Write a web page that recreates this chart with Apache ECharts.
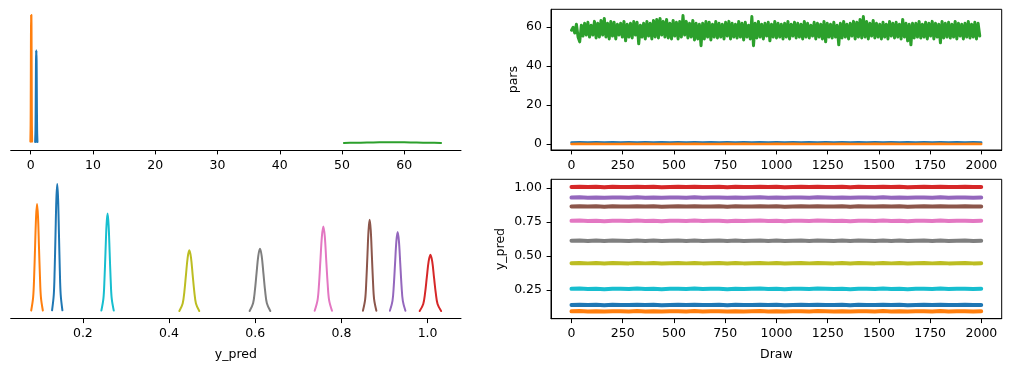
<!DOCTYPE html>
<html>
<head>
<meta charset="utf-8">
<script src="https://cdn.jsdelivr.net/npm/echarts@6/dist/echarts.min.js"></script>
<style>
html,body{margin:0;padding:0;background:#fff;}
#chart{width:1011px;height:372px;}
</style>
</head>
<body>
<div id="chart"></div>
<script>
// ---------------- DATA ----------------
const colors = {blue:'#1f77b4', orange:'#ff7f0e', green:'#2ca02c', red:'#d62728', purple:'#9467bd',
  brown:'#8c564b', pink:'#e377c2', gray:'#7f7f7f', olive:'#bcbd22', cyan:'#17becf'};

// tick labels
const parsKdeTicks = [0, 10, 20, 30, 40, 50, 60];
const ypredKdeTicks = [0.2, 0.4, 0.6, 0.8, 1.0];
const drawTicks = [0, 250, 500, 750, 1000, 1250, 1500, 1750, 2000];
const parsTraceTicks = [0, 20, 40, 60];
const ypredTraceTicks = [0.25, 0.50, 0.75, 1.00];

// KDE of pars (x values, densities)
const parsKdeBlueX = [0.745, 0.80, 0.8275, 0.855, 0.8825, 0.91, 0.9375, 0.965, 0.9925, 1.02, 1.075];
const parsKdeBlueY = [0.08, 0.98, 2.35, 4.39, 6.39, 7.24, 6.39, 4.39, 2.35, 0.98, 0.08];
const parsKdeOrangeX = [-0.02, 0.02, 0.04, 0.06, 0.08, 0.10, 0.12, 0.14, 0.16, 0.18, 0.22];
const parsKdeOrangeY = [0.11, 1.35, 3.25, 6.07, 8.83, 10.0, 8.83, 6.07, 3.25, 1.35, 0.11];
const parsKdeGreenX = [50.3, 52, 54, 56, 58, 60, 62, 64, 65.9];
const parsKdeGreenY = [0.005, 0.015, 0.03, 0.05, 0.06, 0.055, 0.035, 0.015, 0.005];

// KDE of y_pred
const kdeBlueX   = [0.1285,0.1325,0.1345,0.1365,0.1385,0.1405,0.1425,0.1445,0.1465,0.1485,0.1525];
const kdeBlueY   = [1.17,14.2,34.1,63.7,92.8,105.1,92.8,63.7,34.1,14.2,1.17];
const kdeOrangeX = [0.0801,0.0846,0.0869,0.0891,0.0914,0.0936,0.0959,0.0981,0.1004,0.1026,0.1071];
const kdeOrangeY = [0.98,12.0,28.8,53.7,78.2,88.6,78.2,53.7,28.8,12.0,0.98];
const kdeRedX    = [0.9816,0.9899,0.9941,0.9982,1.0024,1.0065,1.0107,1.0148,1.019,1.0231,1.0314];
const kdeRedY    = [0.52,6.35,15.2,28.4,41.4,46.9,41.4,28.4,15.2,6.35,0.52];
const kdePurpleX = [0.9125,0.9185,0.9215,0.9245,0.9275,0.9305,0.9335,0.9365,0.9395,0.9425,0.9485];
const kdePurpleY = [0.73,8.88,21.3,39.8,57.9,65.6,57.9,39.8,21.3,8.88,0.73];
const kdeBrownX  = [0.8499,0.8551,0.8577,0.8603,0.8629,0.8655,0.8681,0.8707,0.8733,0.8759,0.8811];
const kdeBrownY  = [0.84,10.2,24.6,45.9,66.8,75.7,66.8,45.9,24.6,10.2,0.84];
const kdePinkX   = [0.7379,0.7446,0.7480,0.7513,0.7547,0.758,0.7614,0.7647,0.7681,0.7714,0.7781];
const kdePinkY   = [0.78,9.50,22.8,42.6,62.0,70.2,62.0,42.6,22.8,9.50,0.78];
const kdeGrayX   = [0.587,0.595,0.599,0.603,0.607,0.611,0.615,0.619,0.623,0.627,0.635];
const kdeGrayY   = [0.58,7.02,16.9,31.5,45.8,51.9,45.8,31.5,16.9,7.02,0.58];
const kdeOliveX  = [0.4239,0.4316,0.4355,0.4393,0.4432,0.447,0.4509,0.4547,0.4586,0.4624,0.4701];
const kdeOliveY  = [0.56,6.83,16.4,30.6,44.6,50.5,44.6,30.6,16.4,6.83,0.56];
const kdeCyanX   = [0.2429,0.2477,0.2501,0.2525,0.2549,0.2573,0.2597,0.2621,0.2645,0.2669,0.2717];
const kdeCyanY   = [0.9,10.9,26.3,49.1,71.4,80.9,71.4,49.1,26.3,10.9,0.9];

// traces of pars (green: every 8th draw, blue/orange: every 40th draw)
const traceGreen = [
58.5,60,57,61.5,55,52.5,61,55.5,62,56,
62.5,55,61,56,63,54.5,62,55,63.5,56,
64.5,55,62,54,63,55.5,62.5,54,61.5,56,
62,55,63,53,61.5,55,62,54.5,63,56,
62.5,51.5,61,55,62,54,63,55.5,62,54,
63.5,55,64,54.5,64.5,56,63,55,64,54.5,
62,54,63.5,55.5,62.5,54,63,55,66,56,
63,54.5,62,55,63.5,53.5,62,54,61.5,50.5,
62,54,63,55,62.5,53.5,61.5,55,63,54.5,
62,55,61.5,54,62.5,55.5,63,54,62,55,
61.5,54.5,63,55,62,53.5,62.5,55,61,54,
65.5,50.5,62,54.5,63,55,61.5,54,62,55.5,
62.5,53,61.5,55,63,54.5,62,55,61.5,54,
62,55,63,54,61.5,55.5,62.5,54.5,62,55,
61.5,54,63,55,62,54.5,61,55.5,62.5,54,
62,55,61.5,54,63,52.5,62,55,61.5,54.5,
62.5,55,61,51,62,54.5,63,55,61.5,54,
62,55.5,63,54,62.5,55,64,54.5,65.5,55,
63,54,62,55.5,63.5,54.5,62,55,61.5,54,
62.5,55,61.5,54,63,55.5,62,54.5,62.5,55,
61.5,54,64,55,62,53,61.5,51,62,54.5,
62,55,63,54.5,61.5,55,62.5,54,62,55.5,
63,54,62,55,61.5,52,63,54.5,62,55,
62.5,54.5,61.5,55,63,54,62,55.5,61.5,54,
62,55,63,54.5,61.5,55,62.5,54,62,55.5];
const traceParsBlue = [0.91,0.98,0.85,0.99,0.84,0.97,0.86,1.0,0.85,0.98,0.84,0.97,0.86,0.99,0.83,0.98,0.85,0.97,0.86,1.0,0.84,0.98,0.85,0.97,0.86,0.99,0.84,0.98,0.85,0.97,0.86,1.0,0.84,0.98,0.85,0.97,0.86,0.99,0.84,0.98,0.85,0.97,0.86,1.0,0.84,0.98,0.85,0.97,0.86,0.99,0.91];
const traceParsOrange = [0.10,0.15,0.05,0.16,0.04,0.14,0.06,0.17,0.05,0.15,0.04,0.14,0.06,0.16,0.03,0.15,0.05,0.14,0.06,0.17,0.04,0.15,0.05,0.14,0.06,0.16,0.04,0.15,0.05,0.14,0.06,0.17,0.04,0.15,0.05,0.14,0.06,0.16,0.04,0.15,0.05,0.14,0.06,0.17,0.04,0.15,0.05,0.14,0.06,0.16,0.10];

// traces of y_pred (every 40th draw)
const trBlue   = [0.141,0.143,0.140,0.142,0.139,0.142,0.141,0.140,0.143,0.140,0.142,0.139,0.141,0.142,0.140,0.143,0.140,0.141,0.142,0.139,0.142,0.140,0.141,0.143,0.140,0.142,0.139,0.141,0.142,0.140,0.143,0.141,0.140,0.142,0.139,0.142,0.141,0.140,0.143,0.140,0.142,0.139,0.141,0.142,0.140,0.143,0.140,0.141,0.142,0.140,0.141];
const trOrange = [0.094,0.096,0.093,0.095,0.092,0.095,0.094,0.093,0.096,0.093,0.095,0.092,0.094,0.095,0.093,0.096,0.093,0.094,0.095,0.092,0.095,0.093,0.094,0.096,0.093,0.095,0.092,0.094,0.095,0.093,0.096,0.094,0.093,0.095,0.092,0.095,0.094,0.093,0.096,0.093,0.095,0.092,0.094,0.095,0.093,0.096,0.093,0.094,0.095,0.093,0.094];
const trRed    = [1.007,1.009,1.006,1.008,1.005,1.008,1.007,1.006,1.009,1.006,1.008,1.005,1.007,1.008,1.006,1.009,1.006,1.007,1.008,1.005,1.008,1.006,1.007,1.009,1.006,1.008,1.005,1.007,1.008,1.006,1.009,1.007,1.006,1.008,1.005,1.008,1.007,1.006,1.009,1.006,1.008,1.005,1.007,1.008,1.006,1.009,1.006,1.007,1.008,1.006,1.007];
const trPurple = [0.929,0.931,0.928,0.930,0.927,0.930,0.929,0.928,0.931,0.928,0.930,0.927,0.929,0.930,0.928,0.931,0.928,0.929,0.930,0.927,0.930,0.928,0.929,0.931,0.928,0.930,0.927,0.929,0.930,0.928,0.931,0.929,0.928,0.930,0.927,0.930,0.929,0.928,0.931,0.928,0.930,0.927,0.929,0.930,0.928,0.931,0.928,0.929,0.930,0.928,0.929];
const trBrown  = [0.864,0.866,0.863,0.865,0.862,0.865,0.864,0.863,0.866,0.863,0.865,0.862,0.864,0.865,0.863,0.866,0.863,0.864,0.865,0.862,0.865,0.863,0.864,0.866,0.863,0.865,0.862,0.864,0.865,0.863,0.866,0.864,0.863,0.865,0.862,0.865,0.864,0.863,0.866,0.863,0.865,0.862,0.864,0.865,0.863,0.866,0.863,0.864,0.865,0.863,0.864];
const trPink   = [0.758,0.760,0.757,0.759,0.756,0.759,0.758,0.757,0.760,0.757,0.759,0.756,0.758,0.759,0.757,0.760,0.757,0.758,0.759,0.756,0.759,0.757,0.758,0.760,0.757,0.759,0.756,0.758,0.759,0.757,0.760,0.758,0.757,0.759,0.756,0.759,0.758,0.757,0.760,0.757,0.759,0.756,0.758,0.759,0.757,0.760,0.757,0.758,0.759,0.757,0.758];
const trGray   = [0.612,0.614,0.611,0.613,0.610,0.613,0.612,0.611,0.614,0.611,0.613,0.610,0.612,0.613,0.611,0.614,0.611,0.612,0.613,0.610,0.613,0.611,0.612,0.614,0.611,0.613,0.610,0.612,0.613,0.611,0.614,0.612,0.611,0.613,0.610,0.613,0.612,0.611,0.614,0.611,0.613,0.610,0.612,0.613,0.611,0.614,0.611,0.612,0.613,0.610,0.612];
const trOlive  = [0.447,0.449,0.446,0.448,0.445,0.448,0.447,0.446,0.449,0.446,0.448,0.445,0.447,0.448,0.446,0.449,0.446,0.447,0.448,0.445,0.448,0.446,0.447,0.449,0.446,0.448,0.445,0.447,0.448,0.446,0.449,0.447,0.446,0.448,0.445,0.448,0.447,0.446,0.449,0.446,0.448,0.445,0.447,0.448,0.446,0.449,0.446,0.447,0.448,0.446,0.447];
const trCyan   = [0.259,0.261,0.258,0.260,0.257,0.260,0.259,0.258,0.261,0.258,0.260,0.257,0.259,0.260,0.258,0.261,0.258,0.259,0.260,0.257,0.260,0.258,0.259,0.261,0.258,0.260,0.257,0.259,0.260,0.258,0.261,0.259,0.258,0.260,0.257,0.260,0.259,0.258,0.261,0.258,0.260,0.257,0.259,0.260,0.258,0.261,0.258,0.259,0.260,0.258,0.259];

// ---------------- CHART ----------------
const FONT = 'DejaVu Sans';
const FS = 12.5;
const zip = (xs, ys) => xs.map((x, i) => [x, ys[i]]);
const drawIdx = (n, step) => Array.from({length: n}, (_, i) => Math.min(i * step, 1999));
const withDraws = (vals, step) => zip(drawIdx(vals.length, step), vals);

const labelStyle = {color: '#000', fontFamily: FONT, fontSize: FS, margin: 9};
const tickStyle = {length: 4.4, lineStyle: {color: '#000', width: 1}};
const lineStyleAxis = {show: true, onZero: false, lineStyle: {color: '#000', width: 1}};

function xAx(grid, min, max, ticks, fmt, name) {
  const a = {
    gridIndex: grid, type: 'value', min: min, max: max,
    axisLine: lineStyleAxis,
    axisTick: Object.assign({customValues: ticks}, tickStyle),
    axisLabel: Object.assign({customValues: ticks, formatter: fmt}, labelStyle),
    splitLine: {show: false}
  };
  if (name) {
    a.name = name; a.nameLocation = 'middle'; a.nameGap = 30;
    a.nameTextStyle = {color: '#000', fontFamily: FONT, fontSize: FS};
  }
  return a;
}
function yAx(grid, min, max, ticks, fmt, name, gap) {
  if (!ticks) return {gridIndex: grid, type: 'value', min: min, max: max, show: false, splitLine: {show: false}};
  return {
    gridIndex: grid, type: 'value', min: min, max: max,
    axisLine: lineStyleAxis,
    axisTick: Object.assign({customValues: ticks}, tickStyle),
    axisLabel: Object.assign({customValues: ticks, formatter: fmt}, labelStyle),
    splitLine: {show: false},
    name: name, nameLocation: 'middle', nameGap: gap, nameRotate: 90,
    nameTextStyle: {color: '#000', fontFamily: FONT, fontSize: FS}
  };
}
function ln(xi, data, color, width, smooth, join) {
  return {type: 'line', xAxisIndex: xi, yAxisIndex: xi, data: data, showSymbol: false, symbol: 'none',
    smooth: smooth || false, sampling: 'none',
    lineStyle: {color: color, width: width, join: join || 'round', cap: 'round'}, itemStyle: {color: color},
    animation: false, silent: true, z: 2};
}

const chart = echarts.init(document.getElementById('chart'), null, {renderer: 'canvas'});
chart.setOption({
  backgroundColor: '#fff',
  animation: false,
  grid: [
    {left: 10.7, top: 9.3, width: 450.3, height: 140.7},
    {left: 10.7, top: 179.3, width: 450.3, height: 139.4},
    {left: 551, top: 9.3, width: 450.7, height: 140.7, show: true, borderColor: '#000', borderWidth: 1, backgroundColor: 'transparent'},
    {left: 551, top: 179.3, width: 450.7, height: 139.4, show: true, borderColor: '#000', borderWidth: 1, backgroundColor: 'transparent'}
  ],
  xAxis: [
    xAx(0, -3.2, 69.1, parsKdeTicks, v => String(v)),
    xAx(1, 0.0325, 1.0775, ypredKdeTicks, v => v.toFixed(1), 'y_pred'),
    xAx(2, -100, 2099, drawTicks, v => String(v)),
    xAx(3, -100, 2099, drawTicks, v => String(v), 'Draw')
  ],
  yAxis: [
    yAx(0, -0.55, 10.45),
    yAx(1, -5.76, 109),
    yAx(2, -3.0, 69.2, parsTraceTicks, v => String(v), 'pars', 31),
    yAx(3, 0.04, 1.063, ypredTraceTicks, v => v.toFixed(2), 'y_pred', 44)
  ],
  series: [
    ln(0, zip(parsKdeBlueX, parsKdeBlueY), colors.blue, 2.3, 0.3),
    ln(0, zip(parsKdeOrangeX, parsKdeOrangeY), colors.orange, 2.3, 0.3),
    ln(0, zip(parsKdeGreenX, parsKdeGreenY), colors.green, 2, 0.3),

    ln(1, zip(kdeBlueX, kdeBlueY), colors.blue, 2, 0.35),
    ln(1, zip(kdeOrangeX, kdeOrangeY), colors.orange, 2, 0.35),
    ln(1, zip(kdeRedX, kdeRedY), colors.red, 2, 0.35),
    ln(1, zip(kdePurpleX, kdePurpleY), colors.purple, 2, 0.35),
    ln(1, zip(kdeBrownX, kdeBrownY), colors.brown, 2, 0.35),
    ln(1, zip(kdePinkX, kdePinkY), colors.pink, 2, 0.35),
    ln(1, zip(kdeGrayX, kdeGrayY), colors.gray, 2, 0.35),
    ln(1, zip(kdeOliveX, kdeOliveY), colors.olive, 2, 0.35),
    ln(1, zip(kdeCyanX, kdeCyanY), colors.cyan, 2, 0.35),

    ln(2, withDraws(traceParsBlue, 40), colors.blue, 2.5),
    ln(2, withDraws(traceParsOrange, 40), colors.orange, 2.5),
    ln(2, withDraws(traceGreen, 8), colors.green, 3, false, 'round'),

    ln(3, withDraws(trBlue, 40), colors.blue, 4),
    ln(3, withDraws(trOrange, 40), colors.orange, 4),
    ln(3, withDraws(trRed, 40), colors.red, 4),
    ln(3, withDraws(trPurple, 40), colors.purple, 4),
    ln(3, withDraws(trBrown, 40), colors.brown, 4),
    ln(3, withDraws(trPink, 40), colors.pink, 4),
    ln(3, withDraws(trGray, 40), colors.gray, 4),
    ln(3, withDraws(trOlive, 40), colors.olive, 4),
    ln(3, withDraws(trCyan, 40), colors.cyan, 4)
  ]
});
</script>
</body>
</html>
